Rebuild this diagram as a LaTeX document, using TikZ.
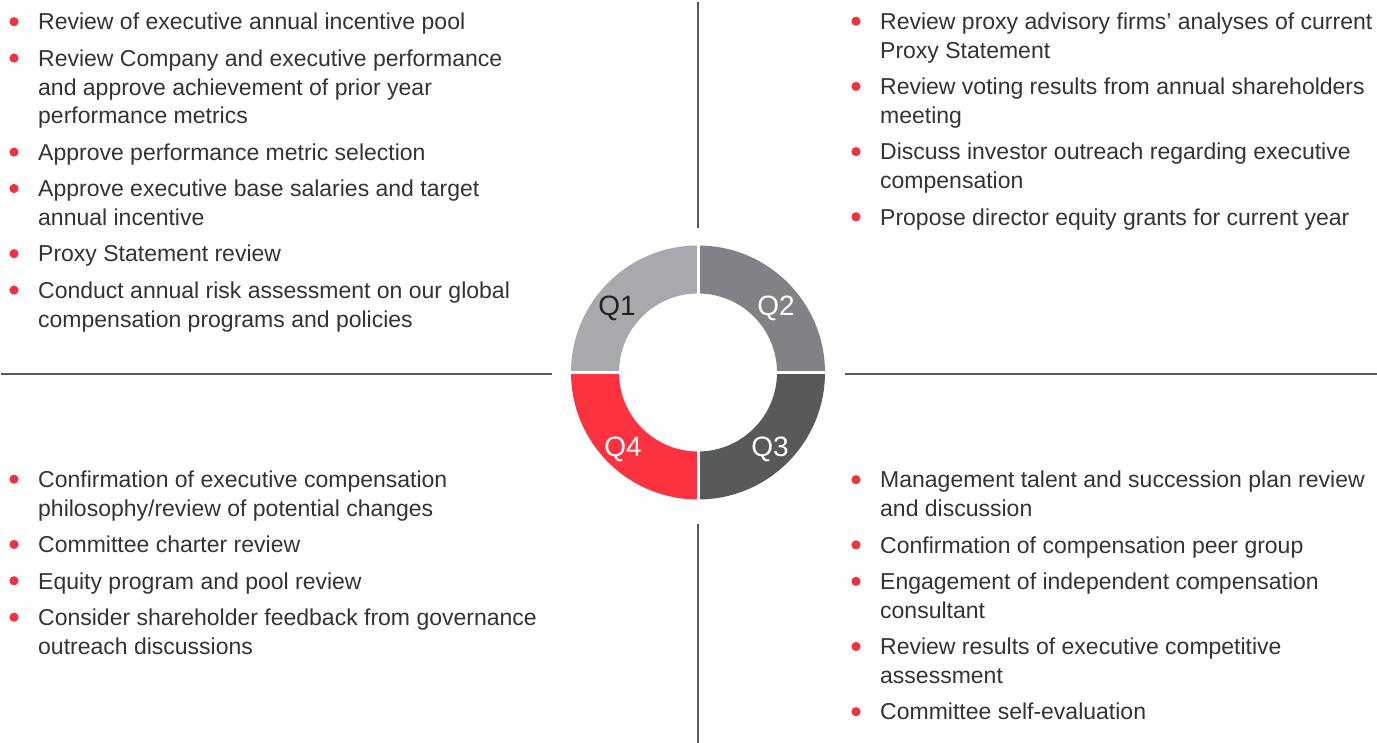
\documentclass[tikz,border=0pt]{standalone}
\usepackage{fontspec}
\setmainfont{Liberation Sans}
\usetikzlibrary{calc}

\definecolor{textgray}{RGB}{51,51,51}
\definecolor{rulegray}{RGB}{88,89,91}
\definecolor{qone}{RGB}{167,169,172}
\definecolor{qtwo}{RGB}{128,130,133}
\definecolor{qthree}{RGB}{88,89,91}
\definecolor{qfour}{RGB}{252,50,64}
\definecolor{bulletred}{RGB}{238,51,64}

\tikzset{
  itemtext/.style={anchor=base west, inner sep=0pt, text=textgray,
    font=\fontsize{23}{28.8}\selectfont},
  qlabel/.style={inner sep=0pt, font=\fontsize{28}{32}\selectfont},
  divider/.style={draw=rulegray, line width=2pt},
  gapline/.style={draw=white, line width=3pt}
}

% one bulleted entry: name, position of the first baseline, lines
\newcommand\entry[3]{%
  \node[itemtext] (#1) at (#2) {\begin{tabular}[t]{@{}l@{}}#3\end{tabular}};
  \fill[bulletred] ([shift={(-24pt,8.3pt)}]#1.base west) circle (4.6pt);
}

% annular sector of the quarter ring
\newcommand\quarter[3]{%
  \fill[#1] ($(c)+(#2:127pt)$) arc[start angle=#2, end angle=#3, radius=127pt]
    -- ($(c)+(#3:79pt)$) arc[start angle=#3, end angle=#2, radius=79pt] -- cycle;
}

\begin{document}
\begin{tikzpicture}[x=1pt,y=1pt]
\useasboundingbox (0,0) rectangle (1377,743);

% dividing rules
\coordinate (vt1) at (698,741);
\coordinate (vt2) at (698,515);
\coordinate (vb1) at (698,219);
\coordinate (vb2) at (698,0);
\coordinate (hl1) at (1,369);
\coordinate (hl2) at (552,369);
\coordinate (hr1) at (845,369);
\coordinate (hr2) at (1377,369);
\draw[divider] (vt1) -- (vt2);
\draw[divider] (vb1) -- (vb2);
\draw[divider] (hl1) -- (hl2);
\draw[divider] (hr1) -- (hr2);

% quarter ring
\coordinate (c) at (698,370.5);
\quarter{qone}{90}{180}
\quarter{qtwo}{0}{90}
\quarter{qthree}{270}{360}
\quarter{qfour}{180}{270}
\draw[gapline] ($(c)+(-130pt,0)$) -- ($(c)+(130pt,0)$);
\draw[gapline] ($(c)+(0,-130pt)$) -- ($(c)+(0,130pt)$);

\node[qlabel, text=black!87] (q1) at (617,435) {Q1};
\node[qlabel, text=white] (q2) at (776,435) {Q2};
\node[qlabel, text=white] (q3) at (770,294) {Q3};
\node[qlabel, text=white] (q4) at (623,294) {Q4};

% Q1 activities
\entry{a1}{38,713}{Review of executive annual incentive pool}
\entry{a2}{38,676.6}{Review Company and executive performance\\and approve achievement of prior year\\performance metrics}
\entry{a3}{38,582.6}{Approve performance metric selection}
\entry{a4}{38,546.2}{Approve executive base salaries and target\\annual incentive}
\entry{a5}{38,481}{Proxy Statement review}
\entry{a6}{38,444.6}{Conduct annual risk assessment on our global\\compensation programs and policies}

% Q2 activities
\entry{b1}{880,713.5}{Review proxy advisory firms’ analyses of current\\Proxy Statement}
\entry{b2}{880,648.3}{Review voting results from annual shareholders\\meeting}
\entry{b3}{880,583.1}{Discuss investor outreach regarding executive\\compensation}
\entry{b4}{880,517.9}{Propose director equity grants for current year}

% Q4 activities
\entry{d1}{38,255.5}{Confirmation of executive compensation\\philosophy/review of potential changes}
\entry{d2}{38,190.3}{Committee charter review}
\entry{d3}{38,153.9}{Equity program and pool review}
\entry{d4}{38,117.5}{Consider shareholder feedback from governance\\outreach discussions}

% Q3 activities
\entry{e1}{880,255}{Management talent and succession plan review\\and discussion}
\entry{e2}{880,189.8}{Confirmation of compensation peer group}
\entry{e3}{880,153.4}{Engagement of independent compensation\\consultant}
\entry{e4}{880,88.2}{Review results of executive competitive\\assessment}
\entry{e5}{880,23}{Committee self-evaluation}
\end{tikzpicture}
\end{document}
